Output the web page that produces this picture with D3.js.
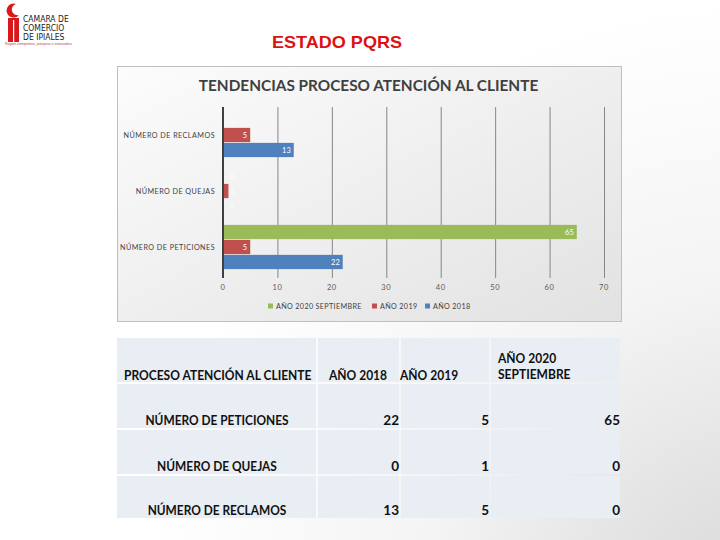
<!DOCTYPE html>
<html>
<head>
<meta charset="utf-8">
<script src="https://cdn.jsdelivr.net/npm/d3@7"></script>
<style>
  body { margin: 0; background: #fff; }
  svg { display: block; }
</style>
</head>
<body>
<div id="slide"></div>
<script>
// Data  - - - - - - - - - - - - - - - - - - - - - - - - - - - - - - - - - - - -
var categories = ["NÚMERO DE PETICIONES", "NÚMERO DE QUEJAS", "NÚMERO DE RECLAMOS"]
var seriesNames = ["AÑO 2018", "AÑO 2019", "AÑO 2020 SEPTIEMBRE"]
var values2018 = [22, 0, 13]
var values2019 = [5, 1, 5]
var values2020 = [65, 0, 0]
var xTicks = [0, 10, 20, 30, 40, 50, 60, 70]
var seriesColors = ["#4f81bd", "#c0504d", "#9bbb59"]

var tableHeader = ["PROCESO ATENCIÓN AL CLIENTE", "AÑO 2018", "AÑO 2019", "AÑO 2020 SEPTIEMBRE"]

var allValues = [values2018, values2019, values2020]

// SVG canvas - - - - - - - - - - - - - - - - - - - - - - - - - - - - - - - - - -
var svgWidth = 720
  , svgHeight = 540
  , calibri = "Lato, 'Open Sans', sans-serif"

var svg = d3.select("#slide").append("svg")
    .attr("width", svgWidth)
    .attr("height", svgHeight)

// Lato runs wider than Calibri, squeeze text horizontally
var narrow = function(sel, k) {
    sel.each(function() {
        var w = this.getComputedTextLength()
        d3.select(this)
            .attr("textLength", w * k)
            .attr("lengthAdjust", "spacingAndGlyphs")
    })
}

var defs = svg.append("defs")

var bgGrad = defs.append("radialGradient")
    .attr("id", "bgGrad")
    .attr("gradientUnits", "userSpaceOnUse")
    .attr("cx", 760).attr("cy", 620).attr("r", 620)
bgGrad.append("stop").attr("offset", 0).attr("stop-color", "#d6d6d6")
bgGrad.append("stop").attr("offset", 0.55).attr("stop-color", "#f4f4f4")
bgGrad.append("stop").attr("offset", 1).attr("stop-color", "#ffffff")

var panelGrad = defs.append("linearGradient")
    .attr("id", "panelGrad")
    .attr("x1", 0).attr("y1", 0).attr("x2", 1).attr("y2", 1)
panelGrad.append("stop").attr("offset", 0).attr("stop-color", "#fcfcfc")
panelGrad.append("stop").attr("offset", 1).attr("stop-color", "#e2e2e2")

svg.append("rect")
    .attr("width", svgWidth).attr("height", svgHeight)
    .attr("fill", "url(#bgGrad)")

// Logo (top left)
var logo = svg.append("g")
logo.append("path")
    .attr("d", "M8,18 L19,18 L19,42 L8,42 Z")
    .attr("fill", "#d7191c")
logo.append("path")
    .attr("d", "M16,4 A7,7 0 1 0 19,15 A5,5 0 1 1 16,4 Z")
    .attr("fill", "#d7191c")
logo.append("rect")
    .attr("x", 13).attr("y", 20).attr("width", 1.2).attr("height", 22)
    .attr("fill", "#fff")
logo.selectAll("text.logo")
    .data(["CAMARA DE", "COMERCIO", "DE IPIALES"])
  .enter().append("text")
    .attr("class", "logo")
    .attr("x", 23)
    .attr("y", (d, i) => 22 + i * 9)
    .attr("font-family", "'DejaVu Sans Condensed', 'Liberation Sans', sans-serif")
    .attr("font-size", 8.5)
    .attr("fill", "#222")
    .text(d => d)
logo.append("text")
    .attr("x", 5).attr("y", 45)
    .attr("font-family", "'Liberation Sans', sans-serif")
    .attr("font-size", 3.5)
    .attr("fill", "#b44")
    .text("Región competitiva, próspera e innovadora")

// Page title
svg.append("text")
    .attr("x", 272).attr("y", 48)
    .attr("font-family", "'Liberation Sans', Arial, sans-serif")
    .attr("font-weight", "bold")
    .attr("font-size", 17)
    .attr("textLength", 130)
    .attr("lengthAdjust", "spacingAndGlyphs")
    .attr("fill", "#dd1111")
    .text("ESTADO PQRS")

// - - - - - - - - - - - - - - - - - - - - - - - - - - - - - - - - - - - - - - -
// CHART panel
//
var panel = {x: 117, y: 66, w: 504, h: 255}

svg.append("rect")
    .attr("x", panel.x + 0.5).attr("y", panel.y + 0.5)
    .attr("width", panel.w).attr("height", panel.h)
    .attr("fill", "url(#panelGrad)")
    .attr("stroke", "#bfbfbf")

svg.append("text")
    .attr("x", 368.5).attr("y", 91)
    .attr("text-anchor", "middle")
    .attr("font-family", calibri)
    .attr("font-weight", "bold")
    .attr("font-size", 16)
    .attr("fill", "#404040")
    .text("TENDENCIAS PROCESO ATENCIÓN AL CLIENTE")
    .call(narrow, 0.96)

var x = d3.scaleLinear()
    .domain([0, 70])
    .range([223, 604])

// top to bottom: RECLAMOS, QUEJAS, PETICIONES
var y = d3.scaleBand()
    .domain(categories.slice().reverse())
    .range([107, 275])
    .paddingInner(0.21)
    .paddingOuter(0.105)

// inside each group, top to bottom: 2020, 2019, 2018
var ySub = d3.scaleBand()
    .domain([2, 1, 0])
    .range([0, y.bandwidth()])
    .paddingInner(0.05)

var chart = svg.append("g")

// gridlines
chart.append("g")
    .selectAll("line")
    .data(xTicks.slice(1))
  .enter().append("line")
    .attr("x1", d => x(d) + 0.5).attr("x2", d => x(d) + 0.5)
    .attr("y1", 107).attr("y2", 278)
    .attr("stroke", "#868686")
    .attr("stroke-width", 1)

// tick labels
chart.append("g")
    .selectAll("text")
    .data(xTicks)
  .enter().append("text")
    .attr("x", d => x(d))
    .attr("y", 290)
    .attr("text-anchor", "middle")
    .attr("font-family", calibri)
    .attr("font-size", 7.5)
    .attr("letter-spacing", 0.6)
    .attr("fill", "#595959")
    .text(d => d)

// bars
var barData = []
categories.forEach(function(cat, ci) {
    allValues.forEach(function(vals, si) {
        barData.push({cat: cat, series: si, value: vals[ci]})
    })
})

var bars = chart.append("g")
    .selectAll("g")
    .data(barData)
  .enter().append("g")
    .attr("transform", d => "translate(0," + (y(d.cat) + ySub(d.series)) + ")")

bars.append("rect")
    .attr("x", x(0))
    .attr("y", 0)
    .attr("width", d => x(d.value) - x(0))
    .attr("height", ySub.bandwidth())
    .attr("fill", d => seriesColors[d.series])

bars.append("text")
    .attr("x", d => Math.max(x(d.value) - 3, x(0) + 11))
    .attr("y", ySub.bandwidth() / 2)
    .attr("dy", "0.35em")
    .attr("text-anchor", "end")
    .attr("font-family", calibri)
    .attr("font-size", 7.5)
    .attr("fill", "#fff")
    .text(d => d.value)

// zero axis
chart.append("line")
    .attr("x1", x(0)).attr("x2", x(0))
    .attr("y1", 107).attr("y2", 278)
    .attr("stroke", "#404040")
    .attr("stroke-width", 2)

// category labels
chart.append("g")
    .selectAll("text")
    .data(categories)
  .enter().append("text")
    .attr("x", 215)
    .attr("y", d => y(d) + y.bandwidth() / 2)
    .attr("dy", "0.35em")
    .attr("text-anchor", "end")
    .attr("font-family", calibri)
    .attr("font-size", 7.2)
    .attr("letter-spacing", 0.45)
    .attr("fill", "#404040")
    .text(d => d)

// legend
var legendItems = [
    {i: 2, x: 268},
    {i: 1, x: 372},
    {i: 0, x: 425}
]
var legend = chart.append("g")
    .selectAll("g")
    .data(legendItems)
  .enter().append("g")
    .attr("transform", d => "translate(" + d.x + ",306)")
legend.append("rect")
    .attr("x", 0).attr("y", -2.5)
    .attr("width", 5).attr("height", 5)
    .attr("fill", d => seriesColors[d.i])
legend.append("text")
    .attr("x", 8).attr("y", 0)
    .attr("dy", "0.35em")
    .attr("font-family", calibri)
    .attr("font-size", 7.2)
    .attr("letter-spacing", 0.35)
    .attr("fill", "#404040")
    .text(d => seriesNames[d.i])

// - - - - - - - - - - - - - - - - - - - - - - - - - - - - - - - - - - - - - - -
// TABLE
//
var colEdges = [117, 317, 400, 490, 621]
  , rowEdges = [338, 383, 429, 475, 519]

var table = svg.append("g")

for (var r = 0; r < 4; r++) {
    for (var c = 0; c < 4; c++) {
        table.append("rect")
            .attr("x", colEdges[c] + (c > 0 ? 1 : 0))
            .attr("y", rowEdges[r] + (r > 0 ? 1 : 0))
            .attr("width", colEdges[c + 1] - colEdges[c] - (c > 0 ? 1 : 0) - 1)
            .attr("height", rowEdges[r + 1] - rowEdges[r] - (r > 0 ? 1 : 0) - 1)
            .attr("fill", "#e9edf4")
    }
}

var cellFont = function(sel) {
    sel.attr("font-family", calibri)
       .attr("font-weight", "bold")
       .attr("font-size", 13.5)
       .attr("fill", "#111")
}

// header
table.append("text").attr("x", 124).attr("y", 380).call(cellFont).text(tableHeader[0]).call(narrow, 0.89)
table.append("text").attr("x", 358).attr("y", 380).attr("text-anchor", "middle").call(cellFont).text(tableHeader[1]).call(narrow, 0.89)
table.append("text").attr("x", 400).attr("y", 380).call(cellFont).text(tableHeader[2]).call(narrow, 0.89)
table.append("text").attr("x", 498).attr("y", 363).call(cellFont).text("AÑO 2020").call(narrow, 0.89)
table.append("text").attr("x", 498).attr("y", 379).call(cellFont).text("SEPTIEMBRE").call(narrow, 0.89)

// body
categories.forEach(function(cat, ri) {
    var base = rowEdges[ri + 2] - 4
    table.append("text")
        .attr("x", (colEdges[0] + colEdges[1]) / 2)
        .attr("y", base)
        .attr("text-anchor", "middle")
        .call(cellFont)
        .text(cat)
        .call(narrow, 0.88)
    allValues.forEach(function(vals, ci) {
        table.append("text")
            .attr("x", colEdges[ci + 2] - 1)
            .attr("y", base)
            .attr("text-anchor", "end")
            .call(cellFont)
            .text(vals[ri])
    })
})
</script>
</body>
</html>
